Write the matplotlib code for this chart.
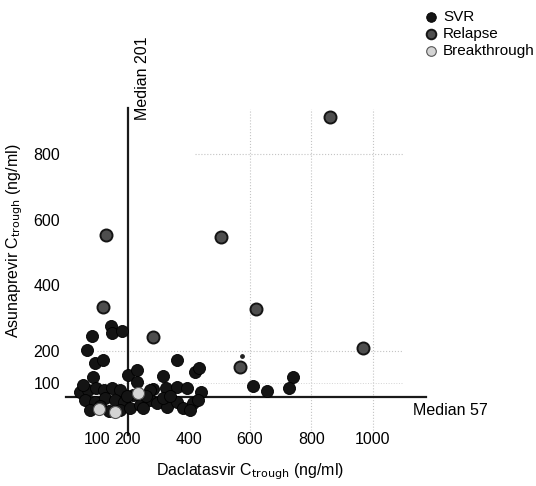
import matplotlib
matplotlib.use("Agg")
import matplotlib.pyplot as plt

plt.rcParams['font.family'] = ['Liberation Sans', 'DejaVu Sans']

# SVR patients (daclatasvir trough, asunaprevir trough)
svr_x = [85, 147, 150, 183, 68, 95, 121, 88, 202, 231, 231, 316, 284, 326, 362, 362, 394, 440, 421, 434,
         610, 655, 740, 727, 274, 297, 329, 362, 381, 414, 430, 316, 404, 274, 46, 72, 98, 124, 150, 176,
         62, 95, 127, 160, 189, 78, 176, 209, 241, 218, 251, 110, 140, 200, 260, 340, 55]
svr_y = [245, 275, 254, 260, 202, 162, 171, 119, 125, 141, 104, 122, 83, 86, 171, 89, 86, 73, 135, 147,
         92, 76, 119, 86, 49, 40, 28, 43, 24, 40, 49, 55, 18, 80, 73, 80, 86, 80, 86, 80,
         49, 43, 55, 49, 43, 18, 18, 24, 34, 64, 24, 30, 15, 60, 60, 60, 95]

relapse_x = [130, 121, 284, 567, 619, 505, 968, 861]
relapse_y = [554, 333, 242, 150, 327, 547, 208, 914]

breakthrough_x = [108, 160, 235]
breakthrough_y = [21, 12, 70]

median_dcv = 201
median_asv = 57

xticks = [100, 200, 400, 600, 800, 1000]
yticks = [100, 200, 400, 600, 800]

fig = plt.figure(figsize=(5.36, 4.86), dpi=100)
# axes placed so data 0 sits where the scanned figure has it
ax = fig.add_axes([62.9 / 536, 1 - 429.1 / 486, 386.3 / 536, 340.1 / 486])
ax.set_xlim(-10, 1250)
ax.set_ylim(-40, 1000)

for s in ax.spines.values():
    s.set_visible(False)

# faint dotted grid from the scan
for gx in [600, 800, 1000]:
    ax.plot([gx, gx], [-60, 940], ls=':', c='#c4c4c4', lw=0.8, zorder=0, clip_on=False)
ax.plot([100, 1100], [200, 200], ls=':', c='#c4c4c4', lw=0.8, zorder=0)
ax.plot([100, 1100], [100, 100], ls=':', c='#d4d4d4', lw=0.7, zorder=0)
ax.plot([420, 1100], [800, 800], ls=':', c='#c4c4c4', lw=0.8, zorder=0)

# median lines
ax.plot([median_dcv, median_dcv], [-58, 942], c='#1a1a1a', lw=1.6, zorder=1, clip_on=False)
ax.plot([0, 1175], [median_asv, median_asv], c='#1a1a1a', lw=1.6, zorder=1, clip_on=False)

ax.scatter(svr_x, svr_y, s=75, c='#141414', edgecolors='#000000', linewidths=0.6, zorder=3, label='SVR')
ax.scatter(relapse_x, relapse_y, s=75, c='#4e4e4e', edgecolors='#151515', linewidths=1.4, zorder=4, label='Relapse')
ax.scatter(breakthrough_x, breakthrough_y, s=75, c='#d4d4d4', edgecolors='#555555', linewidths=0.8, zorder=5,
           label='Breakthrough')
ax.scatter([574], [183], s=6, c='#222222', zorder=4)

ax.text(251, 905, 'Median 201', rotation=90, ha='center', va='bottom', fontsize=11.5)
ax.text(1131, 18, 'Median 57', ha='left', va='center', fontsize=11.5, clip_on=False)

ax.set_xticks(xticks)
ax.set_xticklabels([str(t) for t in xticks])
ax.set_yticks(yticks)
ax.set_yticklabels([str(t) for t in yticks])
ax.tick_params(length=0, labelsize=11.5, pad=2)

ax.set_xlabel('Daclatasvir C$_{\\mathrm{trough}}$ (ng/ml)', fontsize=11.5)
ax.xaxis.set_label_coords(0.485, -0.095)
ax.set_ylabel('Asunaprevir C$_{\\mathrm{trough}}$ (ng/ml)', fontsize=11.5)
ax.yaxis.set_label_coords(-0.098, 0.553)

fig.legend(loc='upper left', bbox_to_anchor=(0.775, 0.995), frameon=False, fontsize=11,
           borderpad=0, handlelength=1, handletextpad=0.3, labelspacing=0.2, markerscale=0.8)

fig.savefig('out.png', dpi=100)
